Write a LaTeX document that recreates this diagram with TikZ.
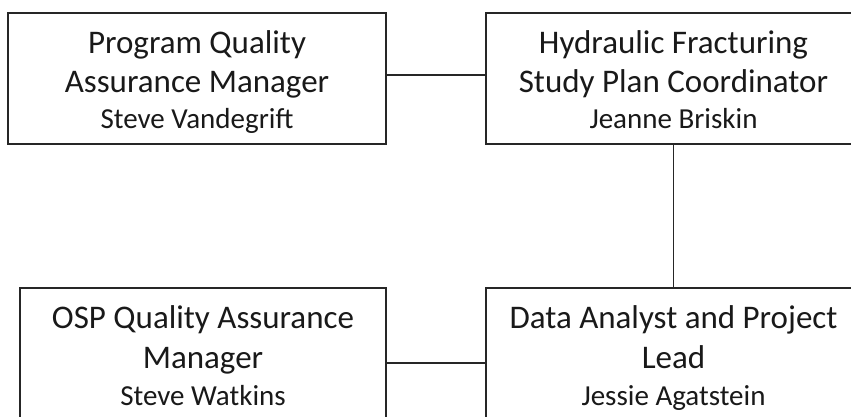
\documentclass[tikz,border=0pt]{standalone}
\usepackage{fontspec}
\setmainfont{Carlito}
\begin{document}
\begin{tikzpicture}[x=1pt,y=-1pt,
  box/.style={draw=black!85,line width=1.3pt,rectangle,inner sep=0pt},
  ttl/.style={anchor=base,inner sep=0pt,font=\fontsize{33}{39}\selectfont,text=black!90},
  nm/.style={anchor=base,inner sep=0pt,font=\fontsize{29}{34}\selectfont,text=black!90},
  conn/.style={draw=black!85,line width=1.3pt}]
\clip (0,0) rectangle (851,416);
\fill[white] (0,0) rectangle (851,416);
% boxes
\node[box,minimum width=378pt,minimum height=131pt] (pqa) at (197,78.5) {};
\node[box,minimum width=375pt,minimum height=131pt] (hf) at (673.5,78.5) {};
\node[box,minimum width=366pt,minimum height=150pt] (osp) at (203,363) {};
\node[box,minimum width=375pt,minimum height=150pt] (da) at (673.5,363) {};
% texts
\node[ttl] (pqa1) at (197,53) {Program Quality};
\node[ttl] (pqa2) at (197,92) {Assurance Manager};
\node[nm] (pqa3) at (197,128) {Steve Vandegrift};
\node[ttl] (hf1) at (673.5,53) {Hydraulic Fracturing};
\node[ttl] (hf2) at (673.5,92) {Study Plan Coordinator};
\node[nm] (hf3) at (673.5,128) {Jeanne Briskin};
\node[ttl] (osp1) at (203,328) {OSP Quality Assurance};
\node[ttl] (osp2) at (203,368) {Manager};
\node[nm] (osp3) at (203,405) {Steve Watkins};
\node[ttl] (da1) at (673.5,328) {Data Analyst and Project};
\node[ttl] (da2) at (673.5,368) {Lead};
\node[nm] (da3) at (673.5,405) {Jessie Agatstein};
% connectors
\draw[conn] ([yshift=3.5pt]pqa.east) -- ([yshift=3.5pt]hf.west);
\draw[conn] (hf.south) -- (da.north);
\draw[conn] (osp.east) -- (da.west);
\end{tikzpicture}
\end{document}
